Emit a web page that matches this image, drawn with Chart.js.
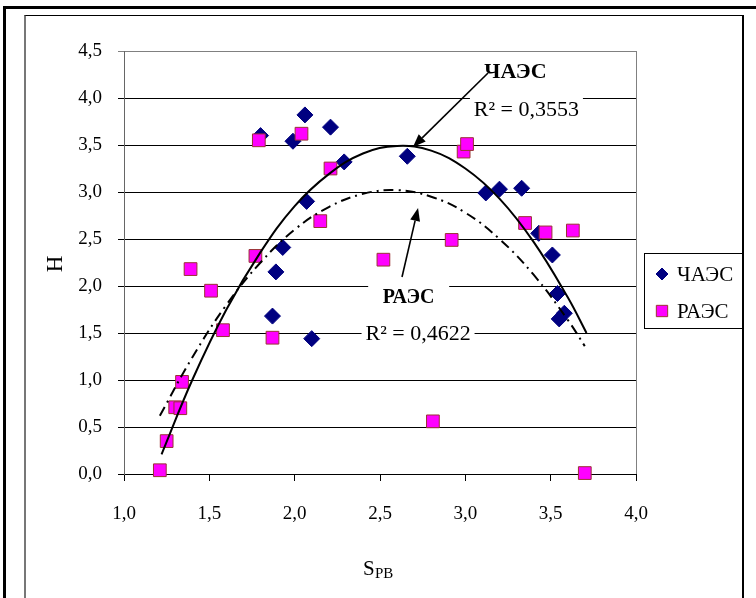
<!DOCTYPE html>
<html>
<head>
<meta charset="utf-8">
<script src="https://cdn.jsdelivr.net/npm/chart.js@4.4.1/dist/chart.umd.min.js"></script>
<style>
  body { margin: 0; background: #fff; overflow: hidden; }
  #wrap { position: relative; width: 756px; height: 598px; }
  .outer { position: absolute; left: 3px; top: 6px; width: 800px; height: 700px;
           border-left: 3px solid #000; border-top: 3px solid #000; }
  .inner { position: absolute; left: 24px; top: 15px; width: 716px; height: 700px;
           border-top: 1px solid #000; border-left: 2px solid #777; border-right: 2px solid #000; }
  canvas { position: absolute; left: 0; top: 0; }
</style>
</head>
<body>
<div id="wrap">
  <div class="outer"></div>
  <div class="inner"></div>
  <canvas id="chart" width="756" height="598"></canvas>
</div>
<script>
// measured points
const chaesX = [1.80, 1.99, 2.06, 2.21, 2.29, 2.07, 1.93, 1.89, 1.87, 2.10, 2.66, 3.12, 3.20, 3.33, 3.43, 3.51, 3.54, 3.55, 3.58];
const chaesY = [3.60, 3.54, 3.82, 3.69, 3.32, 2.90, 2.41, 2.15, 1.68, 1.44, 3.38, 2.99, 3.03, 3.04, 2.56, 2.33, 1.92, 1.65, 1.71];
const raesX = [1.21, 1.25, 1.30, 1.33, 1.34, 1.39, 1.51, 1.58, 1.77, 1.79, 1.87, 2.04, 2.15, 2.21, 2.52, 2.81, 2.92, 2.99, 3.01, 3.35, 3.47, 3.63, 3.70];
const raesY = [0.04, 0.35, 0.71, 0.70, 0.98, 2.18, 1.95, 1.53, 2.32, 3.55, 1.45, 3.62, 2.69, 3.25, 2.28, 0.56, 2.49, 3.43, 3.51, 2.67, 2.57, 2.59, 0.01];

// trend curves
const trendChaesX = [1.22, 1.4, 1.6, 1.8, 2.0, 2.2, 2.4, 2.6, 2.8, 3.0, 3.2, 3.4, 3.6, 3.71];
const trendChaesY = [0.21, 1.00, 1.75, 2.36, 2.85, 3.19, 3.41, 3.49, 3.44, 3.25, 2.93, 2.47, 1.88, 1.50];
const trendRaesX = [1.21, 1.4, 1.6, 1.8, 2.0, 2.2, 2.4, 2.6, 2.8, 3.0, 3.2, 3.4, 3.6, 3.70];
const trendRaesY = [0.62, 1.24, 1.80, 2.25, 2.60, 2.84, 2.98, 3.02, 2.95, 2.78, 2.50, 2.12, 1.64, 1.36];

const seriesNames = ['ЧАЭС', 'РАЭС'];
const r2Labels = ['R² = 0,3553', 'R² = 0,4622'];

const serif = '"Liberation Serif", "Times New Roman", serif';

function pts(xs, ys) {
    return xs.map((x, i) => ({ x: x, y: ys[i] }));
}

function fmt(v) {
    return v.toFixed(1).replace('.', ',');
}

function drawMarker(ctx, style, x, y, r, fill, stroke) {
    ctx.beginPath();
    if (style === 'rectRot') {
        ctx.moveTo(x, y - r); ctx.lineTo(x + r, y); ctx.lineTo(x, y + r); ctx.lineTo(x - r, y);
    } else {
        const s = r * Math.SQRT1_2;
        ctx.rect(x - s, y - s, 2 * s, 2 * s);
    }
    ctx.closePath();
    ctx.fillStyle = fill; ctx.fill();
    ctx.lineWidth = 1; ctx.strokeStyle = stroke; ctx.stroke();
}

function arrow(ctx, x1, y1, x2, y2) {
    const ang = Math.atan2(y2 - y1, x2 - x1);
    const len = 13, half = 5;
    const bx = x2 - len * Math.cos(ang), by = y2 - len * Math.sin(ang);
    ctx.strokeStyle = '#000'; ctx.lineWidth = 1.6;
    ctx.beginPath(); ctx.moveTo(x1, y1); ctx.lineTo(bx, by); ctx.stroke();
    ctx.fillStyle = '#000';
    ctx.beginPath();
    ctx.moveTo(x2, y2);
    ctx.lineTo(bx + half * Math.sin(ang), by - half * Math.cos(ang));
    ctx.lineTo(bx - half * Math.sin(ang), by + half * Math.cos(ang));
    ctx.closePath(); ctx.fill();
}

const extras = {
    id: 'extras',
    afterDraw(chart) {
        const ctx = chart.ctx;
        const xs = chart.scales.x, ys = chart.scales.y, a = chart.chartArea;
        const px = v => xs.getPixelForValue(v), py = v => ys.getPixelForValue(v);
        ctx.save();

        // plot area right border
        ctx.strokeStyle = '#808080'; ctx.lineWidth = 1;
        ctx.beginPath(); ctx.moveTo(Math.round(a.right) + 0.5, a.top); ctx.lineTo(Math.round(a.right) + 0.5, a.bottom); ctx.stroke();

        // text boxes with white background
        function label(text, xv, yv, font, boxW, boxH) {
            const x = px(xv), y = py(yv);
            ctx.fillStyle = '#fff';
            ctx.fillRect(x - boxW / 2, y - boxH / 2, boxW, boxH);
            ctx.fillStyle = '#000';
            ctx.font = font;
            ctx.textAlign = 'center';
            ctx.textBaseline = 'middle';
            ctx.fillText(text, x, y);
        }
        label(seriesNames[0], 3.294, 4.277, 'bold 22px ' + serif, 70, 26);
        label(r2Labels[0], 3.358, 3.87, '22px ' + serif, 113, 32);
        label(seriesNames[1], 2.668, 1.875, 'bold 20px ' + serif, 81, 26);
        label(r2Labels[1], 2.723, 1.49, '22px ' + serif, 113, 30);

        arrow(ctx, px(3.133), py(4.266), px(2.693), py(3.479));
        arrow(ctx, px(2.629), py(2.096), px(2.723), py(2.830));

        // axis titles
        ctx.fillStyle = '#000';
        ctx.font = '21px ' + serif;
        ctx.textAlign = 'left'; ctx.textBaseline = 'alphabetic';
        ctx.fillText('S', 363, 575);
        ctx.font = '15px ' + serif;
        ctx.fillText('PB', 375, 578);

        ctx.save();
        ctx.translate(56, 264);
        ctx.rotate(-Math.PI / 2);
        ctx.font = '23px ' + serif;
        ctx.textAlign = 'center'; ctx.textBaseline = 'middle';
        ctx.fillText('H', 0, 0);
        ctx.restore();

        // legend box
        const lx = 644, ly = 253, lw = 98, lh = 75;
        ctx.fillStyle = '#fff';
        ctx.fillRect(lx, ly, lw, lh);
        ctx.strokeStyle = '#000'; ctx.lineWidth = 1;
        ctx.strokeRect(lx + 0.5, ly + 0.5, lw, lh);
        const ds = chart.data.datasets;
        [0, 1].forEach((i, k) => {
            const d = ds[i];
            const y = 274 + k * 37;
            drawMarker(ctx, d.pointStyle, 662, y, d.pointStyle === 'rectRot' ? 6 : 8, d.backgroundColor, d.borderColor);
            ctx.fillStyle = '#000';
            ctx.font = '21px ' + serif;
            ctx.textAlign = 'left'; ctx.textBaseline = 'middle';
            ctx.fillText(d.label, 677, y + 1);
        });
        ctx.restore();
    }
};

const ctx = document.getElementById('chart').getContext('2d');
new Chart(ctx, {
    type: 'scatter',
    data: {
        datasets: [{
            label: seriesNames[0],
            data: pts(chaesX, chaesY),
            pointStyle: 'rectRot',
            pointRadius: 8,
            backgroundColor: '#000080',
            borderColor: '#000080',
            borderWidth: 1,
            clip: false,
            order: 2
        }, {
            label: seriesNames[1],
            data: pts(raesX, raesY),
            pointStyle: 'rect',
            pointRadius: 9,
            backgroundColor: '#ff00ff',
            borderColor: '#993333',
            borderWidth: 1,
            clip: false,
            order: 1
        }, {
            type: 'line',
            label: 'trend ' + seriesNames[0],
            data: pts(trendChaesX, trendChaesY),
            borderColor: '#000',
            borderWidth: 2,
            pointRadius: 0,
            tension: 0.4,
            fill: false,
            order: 0
        }, {
            type: 'line',
            label: 'trend ' + seriesNames[1],
            data: pts(trendRaesX, trendRaesY),
            borderColor: '#000',
            borderWidth: 2,
            borderDash: [10, 5, 2, 5],
            pointRadius: 0,
            tension: 0.4,
            fill: false,
            order: 0
        }]
    },
    options: {
        responsive: false,
        animation: false,
        devicePixelRatio: 1,
        layout: { padding: { left: 0, right: 120, top: 51, bottom: 0 } },
        plugins: { legend: { display: false }, tooltip: { enabled: false } },
        scales: {
            x: {
                type: 'linear',
                min: 1, max: 4,
                afterFit: s => { s.height = 124; },
                ticks: {
                    stepSize: 0.5,
                    autoSkip: false,
                    maxRotation: 0,
                    padding: 22,
                    color: '#000',
                    font: { family: serif, size: 19 },
                    callback: v => fmt(v)
                },
                grid: { drawOnChartArea: false, drawTicks: true, tickLength: 7, color: '#000' },
                border: { color: '#000' }
            },
            y: {
                type: 'linear',
                min: 0, max: 4.5,
                afterFit: s => { s.width = 124; },
                ticks: {
                    stepSize: 0.5,
                    autoSkip: false,
                    padding: 16,
                    color: '#000',
                    font: { family: serif, size: 19 },
                    callback: v => fmt(v)
                },
                grid: {
                    tickLength: 6,
                    color: c => (c.tick && c.tick.value === 4.5 ? '#808080' : '#000')
                },
                border: { color: '#666' }
            }
        }
    },
    plugins: [extras]
});
</script>
</body>
</html>
